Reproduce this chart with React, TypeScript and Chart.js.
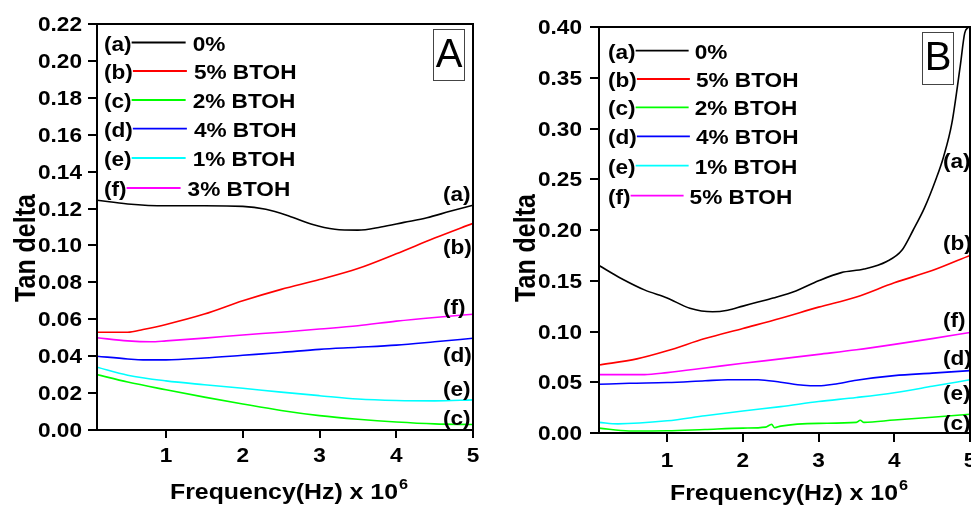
import React, { useEffect, useRef } from "react";
import { Chart, registerables } from "chart.js";

Chart.register(...registerables);

// ---------- data ----------
const SERIES_LETTERS = ["(a)", "(b)", "(c)", "(d)", "(e)", "(f)"];
const SERIES_COLORS = ["#000000", "#ff0000", "#00ff00", "#0000ff", "#00ffff", "#ff00ff"];
const LEGEND_A = ["0%", "5% BTOH", "2% BTOH", "4% BTOH", "1% BTOH", "3% BTOH"];
const LEGEND_B = ["0%", "5% BTOH", "2% BTOH", "4% BTOH", "1% BTOH", "5% BTOH"];
const X_TITLE = "Frequency(Hz) x 10";
const X_TITLE_SUP = "6";
const Y_TITLE = "Tan delta";
const X_TICKS = [1, 2, 3, 4, 5];
const Y_TICKS_A = [0, 0.02, 0.04, 0.06, 0.08, 0.1, 0.12, 0.14, 0.16, 0.18, 0.2, 0.22];
const Y_TICKS_B = [0, 0.05, 0.1, 0.15, 0.2, 0.25, 0.3, 0.35, 0.4];

// Panel A
const A_a_x = [0.1, 0.5, 1.0, 1.5, 2.0, 2.3, 2.6, 2.9, 3.2, 3.5, 3.8, 4.1, 4.4, 4.7, 5.0];
const A_a_y = [0.1245, 0.1225, 0.1215, 0.1215, 0.1212, 0.1196, 0.116, 0.1115, 0.1088, 0.1083, 0.11, 0.1125, 0.115, 0.1185, 0.1218];
const A_b_x = [0.1, 0.5, 0.7, 1.0, 1.5, 2.0, 2.5, 3.0, 3.5, 4.0, 4.5, 5.0];
const A_b_y = [0.053, 0.053, 0.0545, 0.0572, 0.0628, 0.07, 0.0762, 0.0815, 0.0875, 0.0955, 0.104, 0.112];
const A_c_x = [0.1, 0.5, 1, 1.5, 2, 2.5, 3, 3.5, 4, 4.5, 5];
const A_c_y = [0.03, 0.026, 0.0218, 0.0178, 0.0141, 0.0106, 0.0078, 0.0058, 0.0043, 0.0033, 0.003];
const A_d_x = [0.1, 0.5, 0.7, 1.0, 1.5, 2, 2.5, 3, 3.5, 4, 4.5, 5];
const A_d_y = [0.04, 0.0385, 0.038, 0.038, 0.039, 0.0405, 0.042, 0.0437, 0.0448, 0.046, 0.0478, 0.0497];
const A_e_x = [0.1, 0.5, 1, 1.5, 2, 2.5, 3, 3.5, 4, 4.5, 5];
const A_e_y = [0.034, 0.0297, 0.0266, 0.0245, 0.0226, 0.0205, 0.0186, 0.0168, 0.016, 0.0158, 0.0163];
const A_f_x = [0.1, 0.5, 0.8, 1.0, 1.5, 2, 2.5, 3, 3.5, 4, 4.5, 5];
const A_f_y = [0.05, 0.0483, 0.0478, 0.0483, 0.0498, 0.0515, 0.053, 0.0547, 0.0565, 0.059, 0.061, 0.0627];

// Panel B
const B_a_x = [0.1, 0.4, 0.7, 1.0, 1.3, 1.6, 1.8, 2.0, 2.2, 2.4, 2.7, 3.0, 3.3, 3.6, 3.9, 4.1, 4.25, 4.4, 4.55, 4.65, 4.76, 4.87, 4.93, 4.98];
const B_a_y = [0.165, 0.152, 0.141, 0.133, 0.123, 0.1195, 0.121, 0.125, 0.129, 0.133, 0.14, 0.15, 0.158, 0.1615, 0.169, 0.18, 0.2, 0.222, 0.25, 0.272, 0.305, 0.361, 0.394, 0.4];
const B_b_x = [0.1, 0.6, 1.0, 1.5, 2.0, 2.5, 3.0, 3.5, 4.0, 4.5, 5.0];
const B_b_y = [0.067, 0.073, 0.081, 0.093, 0.103, 0.113, 0.124, 0.134, 0.148, 0.16, 0.175];
const B_c_x = [0.1, 0.5, 1.0, 1.5, 2.0, 2.3, 2.38, 2.42, 2.5, 3.0, 3.5, 3.55, 3.6, 4.0, 4.5, 5.0];
const B_c_y = [0.0048, 0.002, 0.0022, 0.0035, 0.0048, 0.0058, 0.0085, 0.0052, 0.0068, 0.0095, 0.0105, 0.0125, 0.0105, 0.0128, 0.0155, 0.0185];
const B_d_x = [0.1, 0.5, 1.0, 1.5, 1.8, 2.2, 2.5, 2.8, 3.0, 3.2, 3.5, 4.0, 4.5, 5.0];
const B_d_y = [0.048, 0.049, 0.0497, 0.0515, 0.0525, 0.0525, 0.05, 0.047, 0.0465, 0.048, 0.052, 0.0565, 0.059, 0.0615];
const B_e_x = [0.1, 0.35, 1, 1.5, 2, 2.5, 3, 3.5, 4, 4.5, 5];
const B_e_y = [0.0105, 0.009, 0.012, 0.017, 0.0217, 0.026, 0.031, 0.035, 0.0397, 0.046, 0.0525];
const B_f_x = [0.1, 0.7, 1.0, 1.5, 2, 2.5, 3, 3.5, 4, 4.5, 5];
const B_f_y = [0.0575, 0.0575, 0.0595, 0.064, 0.0687, 0.073, 0.0775, 0.082, 0.0873, 0.093, 0.099];

const A_SERIES = [[A_a_x, A_a_y], [A_b_x, A_b_y], [A_c_x, A_c_y], [A_d_x, A_d_y], [A_e_x, A_e_y], [A_f_x, A_f_y]];
const B_SERIES = [[B_a_x, B_a_y], [B_b_x, B_b_y], [B_c_x, B_c_y], [B_d_x, B_d_y], [B_e_x, B_e_y], [B_f_x, B_f_y]];

// ---------- layout ----------
const FONT = '"Liberation Sans", Arial, sans-serif';
const SX = 1.16;

type Panel = {
  key: string;
  offset: number;
  canvasW: number;
  yAxisW: number;
  xAxisH: number;
  padTop: number;
  padRight: number;
  yMax: number;
  yTicks: number[];
  yTickLen: number;
  xTickLen: number;
  series: number[][][];
  legend: string[];
  letter: string;
  yLabelRight: number;
  xLabelBase: number;
  xTitleLeft: number;
  xTitleBase: number;
  yTitleX: number;
  yTitleY: number;
  legendX: number;
  legendRows: number[];
  legendLineLen: number;
  legendGap: number;
  box: [number, number, number, number];
  letterBase: number;
  rightLabelX: number;
  rightLabelBase: number[]; // in order a..f
};

const PANEL_A: Panel = {
  key: "A", offset: 0, canvasW: 490, yAxisW: 97, xAxisH: 77, padTop: 24, padRight: 17,
  yMax: 0.22, yTicks: Y_TICKS_A, yTickLen: 9, xTickLen: 8,
  series: A_SERIES, legend: LEGEND_A, letter: "A",
  yLabelRight: 82, xLabelBase: 462, xTitleLeft: 170, xTitleBase: 499,
  yTitleX: 35, yTitleY: 248,
  legendX: 104, legendRows: [43.5, 72, 101, 129.7, 159, 189], legendLineLen: 54, legendGap: 7,
  box: [433, 29, 31, 51], letterBase: 67,
  rightLabelX: 443, rightLabelBase: [201, 254, 425, 362, 396, 314],
};

const PANEL_B: Panel = {
  key: "B", offset: 490, canvasW: 500, yAxisW: 109, xAxisH: 74, padTop: 27, padRight: 20,
  yMax: 0.4, yTicks: Y_TICKS_B, yTickLen: 9, xTickLen: 9,
  series: B_SERIES, legend: LEGEND_B, letter: "B",
  yLabelRight: 582, xLabelBase: 467, xTitleLeft: 670, xTitleBase: 500,
  yTitleX: 535, yTitleY: 248,
  legendX: 608, legendRows: [51.7, 80, 108.3, 137.3, 166.7, 196.7], legendLineLen: 53, legendGap: 6,
  box: [922, 32, 31, 52], letterBase: 70,
  rightLabelX: 943, rightLabelBase: [168, 250, 430, 365, 400, 327],
};

function txt(
  ctx: CanvasRenderingContext2D, s: string, x: number, y: number,
  o: { size: number; weight?: string; align?: string; sx?: number; color?: string }
): number {
  const sx = o.sx ?? SX;
  ctx.save();
  ctx.font = `${o.weight ?? "bold"} ${o.size}px ${FONT}`;
  ctx.fillStyle = o.color ?? "#000";
  ctx.textBaseline = "alphabetic";
  ctx.textAlign = "left";
  const w = ctx.measureText(s).width * sx;
  let left = x;
  if (o.align === "center") left = x - w / 2;
  else if (o.align === "right") left = x - w;
  ctx.translate(left, y);
  ctx.scale(sx, 1);
  ctx.fillText(s, 0, 0);
  ctx.restore();
  return w;
}

function overlay(p: Panel) {
  return {
    id: "overlay" + p.key,
    afterDraw(chart: any) {
      const ctx: CanvasRenderingContext2D = chart.ctx;
      const ca = chart.chartArea;
      const xs = chart.scales.x;
      const ys = chart.scales.y;
      // frame
      ctx.save();
      ctx.strokeStyle = "#000";
      ctx.lineWidth = 2;
      ctx.strokeRect(ca.left, ca.top, ca.right - ca.left, ca.bottom - ca.top);
      ctx.restore();

      ctx.save();
      ctx.translate(-p.offset, 0);
      // tick labels
      ys.ticks.forEach((t: any) => {
        txt(ctx, t.value.toFixed(2), p.yLabelRight, ys.getPixelForValue(t.value) + p.offset - p.offset + 7, { size: 19.5, align: "right" });
      });
      xs.ticks.forEach((t: any) => {
        txt(ctx, String(t.value), xs.getPixelForValue(t.value) + p.offset, p.xLabelBase, { size: 19.5, align: "center" });
      });
      // x title
      const w = txt(ctx, X_TITLE, p.xTitleLeft, p.xTitleBase, { size: 22, sx: 1.13 });
      txt(ctx, X_TITLE_SUP, p.xTitleLeft + w + 1, p.xTitleBase - 10, { size: 14 });
      // y title
      ctx.save();
      ctx.translate(p.yTitleX, p.yTitleY);
      ctx.rotate(-Math.PI / 2);
      ctx.scale(1, 1.16);
      ctx.font = `bold 25px ${FONT}`;
      ctx.fillStyle = "#000";
      ctx.textAlign = "center";
      ctx.textBaseline = "alphabetic";
      ctx.fillText(Y_TITLE, 0, 0);
      ctx.restore();
      // legend
      p.legend.forEach((lab, i) => {
        const cy = p.legendRows[i];
        const pw = txt(ctx, SERIES_LETTERS[i], p.legendX, cy + 7, { size: 19.5 });
        const x1 = p.legendX + pw;
        const x2 = x1 + p.legendLineLen;
        ctx.save();
        ctx.strokeStyle = SERIES_COLORS[i];
        ctx.lineWidth = 1.8;
        ctx.beginPath();
        ctx.moveTo(x1, cy - 1);
        ctx.lineTo(x2, cy - 1);
        ctx.stroke();
        ctx.restore();
        txt(ctx, lab, x2 + p.legendGap, cy + 7, { size: 19.5 });
      });
      // panel letter box
      const [bx, by, bw, bh] = p.box;
      ctx.save();
      ctx.strokeStyle = "#444";
      ctx.lineWidth = 1;
      ctx.strokeRect(bx + 0.5, by + 0.5, bw, bh);
      ctx.restore();
      txt(ctx, p.letter, bx + bw / 2 + 0.5, p.letterBase, { size: 40, weight: "normal", sx: 1, align: "center" });
      // right-side curve labels
      SERIES_LETTERS.forEach((s, i) => {
        txt(ctx, s, p.rightLabelX, p.rightLabelBase[i], { size: 19.5 });
      });
      ctx.restore();
    },
  };
}

function makeConfig(p: Panel): any {
  return {
    type: "line",
    data: {
      datasets: p.series.map(([xs, ys], i) => ({
        label: SERIES_LETTERS[i],
        data: xs.map((x, j) => ({ x, y: ys[j] })),
        borderColor: SERIES_COLORS[i],
        borderWidth: 1.6,
        pointRadius: 0,
        fill: false,
        cubicInterpolationMode: "monotone",
      })),
    },
    options: {
      animation: false,
      responsive: false,
      maintainAspectRatio: false,
      layout: { padding: { left: 0, top: p.padTop, right: p.padRight, bottom: 0 } },
      plugins: { legend: { display: false }, tooltip: { enabled: false } },
      scales: {
        x: {
          type: "linear",
          min: 0.1,
          max: 5,
          ticks: { display: false },
          grid: { display: true, drawOnChartArea: false, drawTicks: true, tickLength: p.xTickLen, color: "#000", lineWidth: 2 },
          border: { display: true, color: "#000", width: 2 },
          afterBuildTicks: (s: any) => { s.ticks = X_TICKS.map((v) => ({ value: v })); },
          afterFit: (s: any) => { s.height = p.xAxisH; },
        },
        y: {
          type: "linear",
          min: 0,
          max: p.yMax,
          ticks: { display: false },
          grid: { display: true, drawOnChartArea: false, drawTicks: true, tickLength: p.yTickLen, color: "#000", lineWidth: 2 },
          border: { display: true, color: "#000", width: 2 },
          afterBuildTicks: (s: any) => { s.ticks = p.yTicks.map((v) => ({ value: v })); },
          afterFit: (s: any) => { s.width = p.yAxisW; },
        },
      },
    },
    plugins: [overlay(p)],
  };
}

function PanelChart({ p }: { p: Panel }) {
  const ref = useRef<HTMLCanvasElement | null>(null);
  useEffect(() => {
    if (!ref.current) return;
    const chart = new Chart(ref.current, makeConfig(p));
    return () => chart.destroy();
  }, [p]);
  return (
    <canvas
      ref={ref}
      width={p.canvasW}
      height={507}
      style={{ position: "absolute", left: p.offset, top: 0, width: p.canvasW, height: 507 }}
    />
  );
}

export default function App() {
  return (
    <div style={{ position: "fixed", left: 0, top: 0, width: 971, height: 507, overflow: "hidden", background: "#fff" }}>
      <PanelChart p={PANEL_A} />
      <PanelChart p={PANEL_B} />
    </div>
  );
}
